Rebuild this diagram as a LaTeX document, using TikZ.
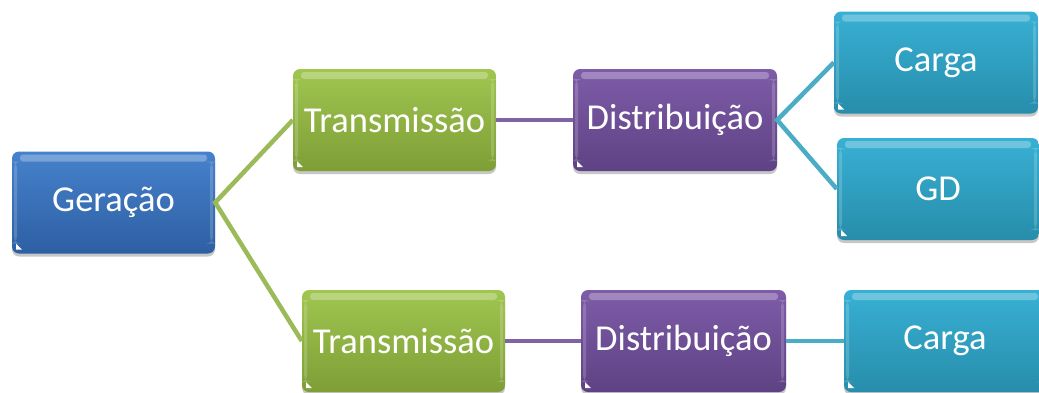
\documentclass[tikz,border=0pt]{standalone}
\usepackage{fontspec}
\setmainfont{Carlito}
\usetikzlibrary{shadows}
\definecolor{genT}{HTML}{4682CC}
\definecolor{genB}{HTML}{2D5FA3}
\definecolor{traT}{HTML}{A0C650}
\definecolor{traB}{HTML}{7E9E36}
\definecolor{disT}{HTML}{7E5CA8}
\definecolor{disB}{HTML}{5E4284}
\definecolor{carT}{HTML}{38B0D4}
\definecolor{carB}{HTML}{278DAB}
\definecolor{lnG}{HTML}{9BBB59}
\definecolor{lnP}{HTML}{8064A2}
\definecolor{lnT}{HTML}{4BACC6}
\tikzset{
  box/.style={rounded corners=7pt, minimum width=203pt, minimum height=102pt,
    inner sep=0pt, text=white, font=\fontsize{36.5}{40}\selectfont,
    drop shadow={shadow xshift=0pt, shadow yshift=-3pt, opacity=0.22, fill=black},
    path picture={
      \fill[white,opacity=0.28,rounded corners=3pt]
        ([xshift=8pt,yshift=-3pt]path picture bounding box.north west) rectangle
        ([xshift=-8pt,yshift=-10pt]path picture bounding box.north east);
      \fill[white,opacity=0.18]
        ([xshift=2pt,yshift=-10pt]path picture bounding box.north west) rectangle
        ([xshift=5pt,yshift=10pt]path picture bounding box.south west);
      \fill[white,opacity=0.18]
        ([xshift=-2pt,yshift=-10pt]path picture bounding box.north east) rectangle
        ([xshift=-5pt,yshift=10pt]path picture bounding box.south east);
      \fill[white,sharp corners]
        ([xshift=4pt,yshift=4pt]path picture bounding box.south west)
        -- ++(0pt,6pt) -- ++(6pt,-6pt) -- cycle;
    }},
  genbox/.style={box, top color=genT, bottom color=genB},
  trabox/.style={box, top color=traT, bottom color=traB},
  disbox/.style={box, top color=disT, bottom color=disB},
  carbox/.style={box, top color=carT, bottom color=carB},
  link/.style={line width=4.5pt},
}
\begin{document}
\begin{tikzpicture}[x=1pt,y=-1pt]
\useasboundingbox (0,0) rectangle (1039,392);
\node[genbox] (gen) at (113.5,202.5) {Geração};
\node[trabox] (t1) at (394.5,120) {Transmissão};
\node[trabox] (t2) at (403.5,341) {Transmissão};
\node[disbox, minimum width=204pt] (d1) at (675,120) {Distribuição};
\node[disbox, minimum width=205pt] (d2) at (683.5,341) {Distribuição};
\node[carbox, minimum width=204pt] (c1) at (936,62.5) {Carga};
\node[carbox, minimum width=202pt] (gd) at (938,189) {GD};
\node[carbox, minimum width=202pt] (c2) at (945,341) {Carga};
\draw[link, lnG] (t1.west) -- (gen.east) -- (t2.west);
\draw[link, lnP] (t1.east) -- (d1.west);
\draw[link, lnP] (t2.east) -- (d2.west);
\draw[link, lnT] (c1.west) -- (d1.east) -- (gd.west);
\draw[link, lnT] (d2.east) -- (c2.west);
\end{tikzpicture}
\end{document}
